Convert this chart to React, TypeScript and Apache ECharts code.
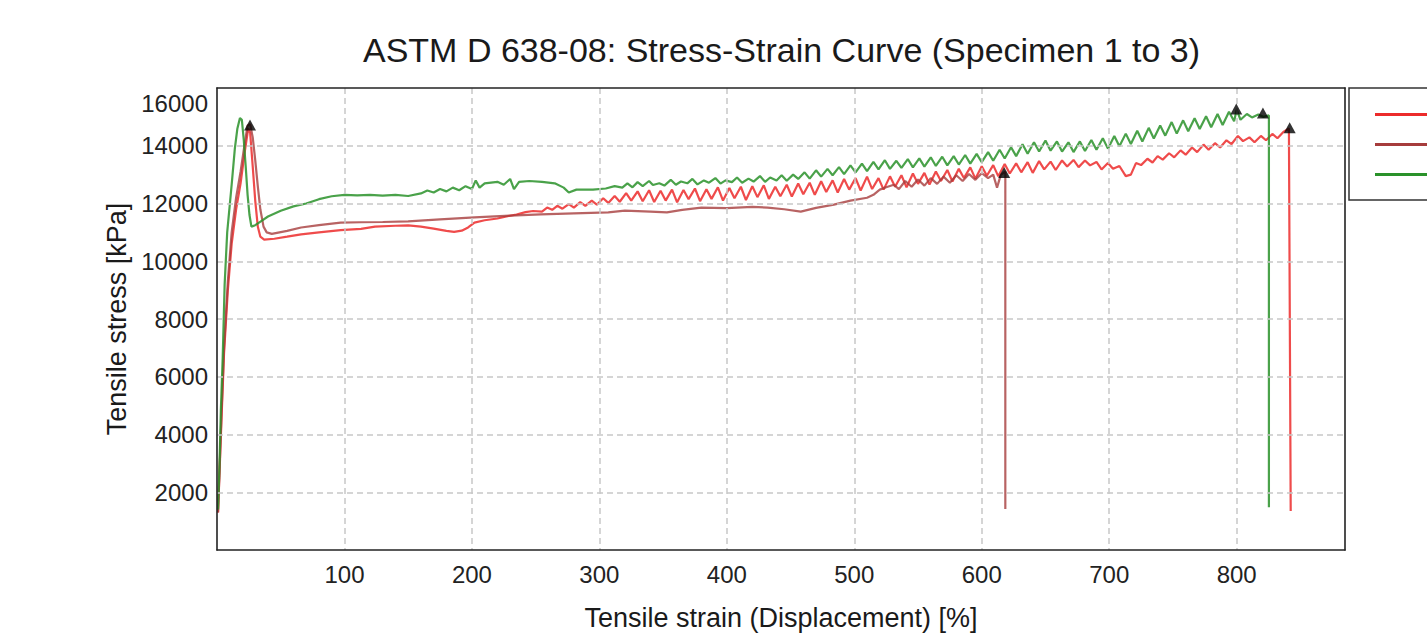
import React, { useEffect, useRef } from "react";
import * as echarts from "echarts";

const FONT = "'Liberation Sans', Arial, Helvetica, sans-serif";

const seriesNames = ["Specimen 1", "Specimen 2", "Specimen 3"];

const xMin = 0;
const xMax = 885;
const xInterval = 100;
const yMin = 0;
const yMax = 16000;
const yInterval = 2000;

// Specimen 1 (red)
const redData: number[][] = [
  [0.8, 1300], [2, 2700], [3.5, 4500], [5.5, 6800], [8.5, 9000], [11.5, 10600], [15, 11800], [18.5, 12700],
  [21.5, 13700], [24.5, 14600], [26, 14450], [28, 13300], [30, 12100], [32, 11200], [34, 10850], [37, 10750],
  [45, 10780], [55, 10850], [66, 10930], [80, 11000], [97, 11080], [113, 11120], [124, 11200], [140, 11230],
  [150, 11240], [160, 11200], [170, 11130], [180, 11050], [186, 11020], [192, 11060], [197, 11170], [202, 11340],
  [210, 11420], [220, 11480], [228, 11560], [235, 11620], [242, 11700], [248, 11740],
  [255, 11720], [259, 11860], [263, 11780], [267, 11920], [271, 11820], [276, 11980], [280, 11860], [285, 12050],
  [289, 11920], [294, 12100], [298, 11960], [303, 12180], [307, 12020], [312, 12260], [316, 12060], [321, 12360],
  [325, 12100], [330, 12420], [334, 12080], [339, 12460], [343, 12050], [348, 12440], [352, 12100], [357, 12480],
  [361, 12040], [366, 12470], [370, 12150], [375, 12520], [379, 12080], [384, 12490], [388, 12160], [393, 12560],
  [397, 12100], [402, 12540], [406, 12180], [411, 12580], [415, 12120], [420, 12600], [424, 12220], [429, 12630],
  [433, 12160], [438, 12580], [442, 12250], [447, 12650], [451, 12240], [456, 12690], [460, 12320], [465, 12720],
  [469, 12300], [474, 12770], [478, 12400], [483, 12800], [487, 12380], [492, 12850], [496, 12480], [501, 12880],
  [505, 12450], [510, 12930], [514, 12500], [519, 12880], [523, 12480], [528, 12940], [532, 12580], [537, 12980],
  [541, 12560], [546, 13040], [550, 12680], [555, 13060], [559, 12660], [564, 13110], [568, 12780], [573, 13160],
  [577, 12760], [582, 13200], [586, 12880], [591, 13250], [595, 12860], [600, 13290], [604, 12960], [609, 13330],
  [613, 12940], [618, 13370], [622, 13040], [627, 13390], [631, 13080], [636, 13430], [640, 13060], [645, 13470],
  [649, 13180], [654, 13450], [658, 13160], [663, 13490], [667, 13280], [672, 13510], [676, 13260], [681, 13490],
  [685, 13320], [690, 13440], [694, 13180], [699, 13400], [703, 13200], [708, 13300], [713, 12950], [717, 13000],
  [721, 13400], [725, 13330], [730, 13550], [734, 13420], [738, 13640], [742, 13520], [747, 13740], [751, 13600],
  [756, 13840], [760, 13690], [765, 13940], [769, 13780], [774, 14040], [778, 13860], [783, 14090], [787, 13940],
  [792, 14190], [796, 14060], [801, 14340], [805, 14160], [810, 14290], [814, 14120], [819, 14340], [823, 14190],
  [828, 14410], [832, 14260], [837, 14490], [841, 14600], [842.4, 1350],
];

// Specimen 2 (brown)
const brownData: number[][] = [
  [0.8, 1300], [2, 2800], [3.5, 4700], [5.5, 7000], [8.5, 9300], [11.5, 11000], [15, 12200], [18.5, 13100],
  [21.5, 14000], [24, 14700], [26, 14750], [28, 14300], [30, 13500], [32, 12600], [34, 11800], [36.5, 11200],
  [39, 11000], [43, 10950], [55, 11050], [66, 11170], [80, 11250], [97, 11340], [113, 11350], [130, 11360],
  [150, 11380], [175, 11450], [202, 11520], [230, 11580], [254, 11620], [280, 11660], [307, 11690], [320, 11750],
  [340, 11720], [353, 11690], [365, 11780], [380, 11860], [400, 11840], [420, 11880], [432, 11860], [445, 11800],
  [458, 11720], [470, 11850], [484, 11960], [497, 12100], [510, 12200], [515, 12300], [520, 12480], [525, 12560],
  [531, 12650], [535, 12500], [540, 12780], [545, 12580], [550, 12830], [555, 12620], [560, 12880], [565, 12680],
  [570, 12930], [575, 12720], [580, 12980], [585, 12780], [590, 13020], [595, 12820], [600, 13050], [605, 12880],
  [609, 13000], [612, 12550], [615, 13000], [618.5, 13100], [618.5, 1420],
];

// Specimen 3 (green)
const greenData: number[][] = [
  [0.8, 1400], [2, 3000], [3, 4800], [4.5, 6700], [6, 9200], [8, 11000], [11.5, 12650], [14, 13900],
  [16, 14600], [18, 14960], [19.5, 14900], [21, 14200], [22.5, 13300], [24, 12300], [25.5, 11600], [27, 11200],
  [30, 11250], [35, 11400], [40, 11550], [50, 11750], [60, 11900], [70, 12000], [80, 12150], [90, 12250],
  [100, 12300], [110, 12280], [120, 12300], [130, 12270], [140, 12300], [150, 12260], [160, 12350], [165, 12450],
  [170, 12380], [175, 12500], [180, 12420], [185, 12550], [190, 12460], [195, 12600], [200, 12500], [203, 12800],
  [206, 12550], [210, 12700], [220, 12750], [225, 12650], [230, 12850], [233, 12500], [237, 12750], [245, 12780],
  [255, 12750], [265, 12700], [272, 12550], [276, 12380], [282, 12480], [295, 12480], [305, 12520], [312, 12600],
  [318, 12550],
  [322, 12700], [326, 12560], [330, 12740], [334, 12600], [339, 12780], [342, 12640], [347, 12700], [351, 12620],
  [356, 12820], [360, 12650], [364, 12760], [369, 12700], [373, 12850], [377, 12660], [382, 12800], [386, 12720],
  [391, 12880], [395, 12690], [399, 12800], [404, 12740], [408, 12900], [412, 12720], [417, 12860], [421, 12760],
  [426, 12950], [430, 12750], [434, 12900], [439, 12800], [443, 12980], [447, 12790], [452, 13000], [456, 12850],
  [461, 13080], [465, 12860], [470, 13150], [474, 12930], [479, 13200], [483, 12980], [488, 13260], [492, 13020],
  [497, 13320], [501, 13080], [506, 13380], [510, 13120], [515, 13440], [519, 13180], [524, 13500], [528, 13200],
  [533, 13480], [537, 13230], [542, 13540], [546, 13250], [551, 13560], [555, 13280], [560, 13600], [564, 13300],
  [569, 13620], [573, 13320], [578, 13640], [582, 13350], [587, 13680], [591, 13380], [596, 13720], [600, 13430],
  [605, 13780], [609, 13480], [614, 13860], [618, 13560], [623, 13950], [627, 13640], [632, 14050], [636, 13720],
  [641, 14120], [645, 13800], [650, 14180], [654, 13830], [659, 14150], [663, 13800], [668, 14120], [672, 13780],
  [677, 14150], [681, 13820], [686, 14200], [690, 13860], [695, 14260], [699, 13900], [704, 14340], [708, 13980],
  [713, 14420], [717, 14060], [722, 14520], [726, 14150], [731, 14620], [735, 14250], [740, 14700], [744, 14350],
  [749, 14820], [753, 14420], [758, 14880], [762, 14500], [767, 14950], [771, 14580], [776, 15020], [780, 14640],
  [785, 15100], [789, 14720], [794, 15180], [798, 14850], [800, 15250], [803, 14900], [808, 15100], [812, 14980],
  [817, 15080], [821, 15000], [825.3, 15050], [825.3, 1480],
];

// Black triangle markers (peaks / break points)
const markerPoints: number[][] = [
  [25.9, 14720], [617.6, 13070], [799.7, 15275], [820.6, 15137], [841.6, 14620],
];

const seriesColors = ["#ec2b2b", "#a63c3c", "#2a922a"];

export default function App() {
  const ref = useRef<HTMLDivElement>(null);

  useEffect(() => {
    if (!ref.current) return;
    const chart = echarts.init(ref.current, null, { renderer: "svg" });
    const gridLine = {
      show: true,
      showMinLine: false,
      showMaxLine: false,
      lineStyle: { color: "#c8c8c8", width: 1.5, type: [6, 4] as any },
    };
    const frameLine = { show: true, onZero: false, lineStyle: { color: "#222222", width: 1.6 } };
    const lineSeries = (name: string, data: number[][], color: string, opacity: number) => ({
      name,
      type: "line",
      data,
      symbol: "none",
      showSymbol: false,
      color,
      lineStyle: { color, width: 2.2, opacity },
      emphasis: { disabled: true },
      clip: true,
      z: 2,
    });
    chart.setOption({
      animation: false,
      backgroundColor: "#ffffff",
      textStyle: { fontFamily: FONT },
      title: {
        text: "ASTM D 638-08: Stress-Strain Curve (Specimen 1 to 3)",
        left: 363,
        top: 33,
        padding: 0,
        textStyle: { fontFamily: FONT, fontSize: 34, fontWeight: "normal", color: "#1a1a1a" },
      },
      legend: {
        data: seriesNames,
        orient: "vertical",
        left: 1349,
        top: 88,
        padding: [25, 10, 24, 26],
        itemGap: 27,
        itemWidth: 62,
        itemHeight: 3,
        icon: "rect",
        formatter: () => "",
        borderColor: "#333333",
        borderWidth: 1.5,
        backgroundColor: "#ffffff",
        textStyle: { fontFamily: FONT, fontSize: 3, lineHeight: 3, color: "#222" },
      },
      grid: {
        left: 217,
        right: 82,
        top: 88,
        bottom: 84,
        containLabel: false,
        outerBoundsMode: "none",
        show: false,
      },
      xAxis: [
        {
          type: "value",
          min: xMin,
          max: xMax,
          interval: xInterval,
          name: "Tensile strain (Displacement) [%]",
          nameLocation: "middle",
          nameGap: 54,
          nameTextStyle: { fontFamily: FONT, fontSize: 27, color: "#1a1a1a" },
          axisLine: frameLine,
          axisTick: { show: false },
          axisLabel: {
            showMinLabel: false,
            showMaxLabel: false,
            margin: 12,
            fontFamily: FONT,
            fontSize: 24,
            color: "#222",
          },
          splitLine: gridLine,
          z: 3,
        },
        {
          type: "value",
          position: "top",
          min: xMin,
          max: xMax,
          interval: xInterval,
          axisLine: frameLine,
          axisTick: { show: false },
          axisLabel: { show: false },
          splitLine: { show: false },
          z: 3,
        },
      ],
      yAxis: [
        {
          type: "value",
          min: yMin,
          max: yMax,
          interval: yInterval,
          name: "Tensile stress [kPa]",
          nameLocation: "middle",
          nameGap: 87,
          nameRotate: 90,
          nameTextStyle: { fontFamily: FONT, fontSize: 27, color: "#1a1a1a" },
          axisLine: frameLine,
          axisTick: { show: false },
          axisLabel: {
            showMinLabel: false,
            margin: 9,
            fontFamily: FONT,
            fontSize: 24,
            color: "#222",
            formatter: (v: number) => (v === yMax ? "{top|" + v + "}" : String(v)),
            rich: {
              top: { padding: [30, 0, 0, 0], fontFamily: FONT, fontSize: 24, color: "#222" },
            },
          },
          splitLine: gridLine,
          z: 3,
        },
        {
          type: "value",
          position: "right",
          min: yMin,
          max: yMax,
          interval: yInterval,
          axisLine: frameLine,
          axisTick: { show: false },
          axisLabel: { show: false },
          splitLine: { show: false },
          z: 3,
        },
      ],
      series: [
        lineSeries(seriesNames[0], redData, seriesColors[0], 0.85),
        lineSeries(seriesNames[1], brownData, seriesColors[1], 0.8),
        lineSeries(seriesNames[2], greenData, seriesColors[2], 0.85),
        {
          name: "markers",
          type: "scatter",
          data: markerPoints,
          symbol: "triangle",
          symbolSize: [12, 11],
          itemStyle: { color: "#000000" },
          emphasis: { disabled: true },
          z: 5,
        },
      ],
    });
    return () => chart.dispose();
  }, []);

  return (
    <div
      ref={ref}
      style={{ position: "fixed", left: 0, top: 0, width: 1427, height: 634, background: "#fff" }}
    />
  );
}
